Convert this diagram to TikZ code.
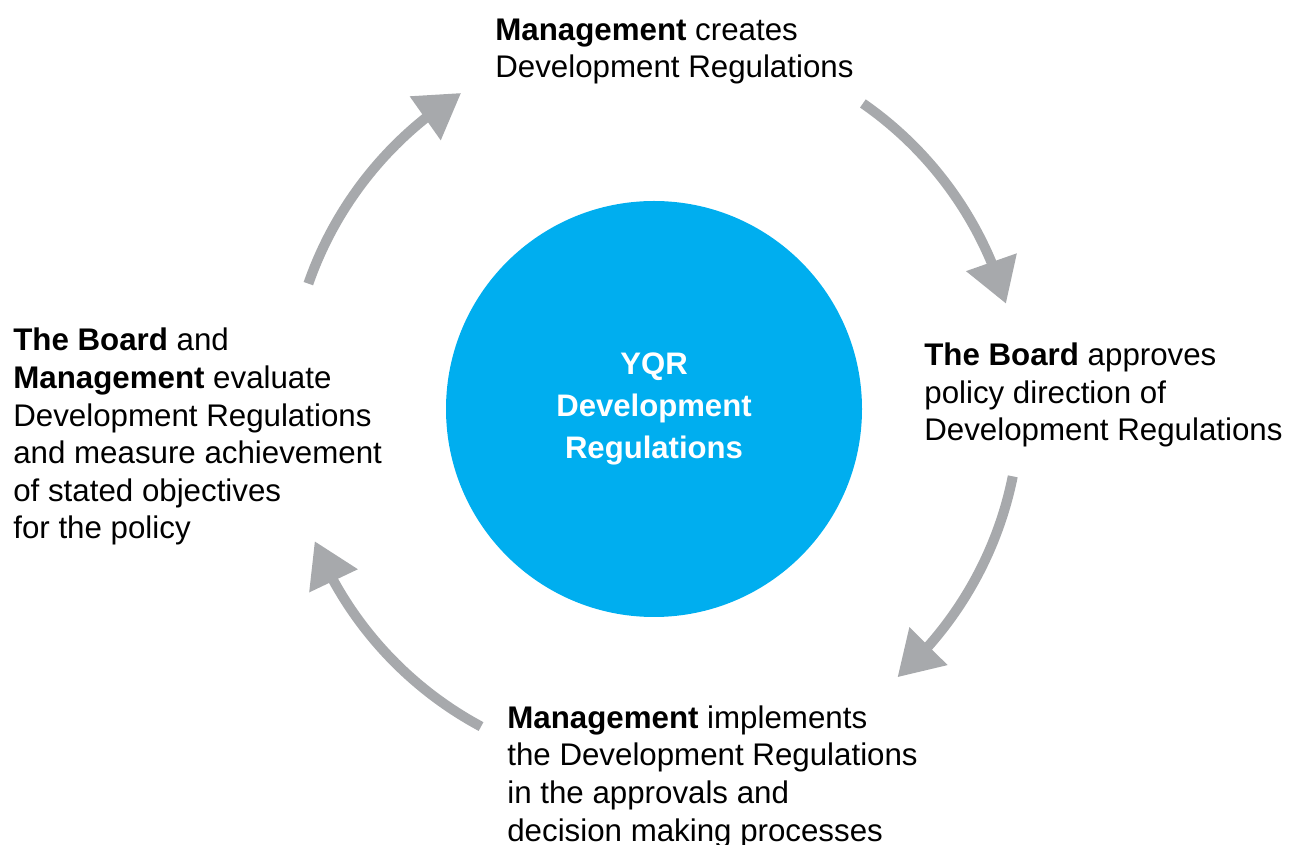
\documentclass[tikz,border=0pt]{standalone}
\usepackage{fontspec}
\setmainfont{Liberation Sans}
\usepackage{xcolor}
\usetikzlibrary{arrows.meta,bending,positioning}

\definecolor{yqrblue}{RGB}{0,174,239}
\definecolor{cyclegrey}{RGB}{167,169,172}

\begin{document}
\begin{tikzpicture}[
    every node/.style = {align=left, inner sep=0pt,
      font=\fontsize{17.8pt}{21.4pt}\selectfont},
    >={Triangle[length=8.8mm, width=10.2mm]},
    cycle arrow/.style = {->, draw=cyclegrey, line width=2mm}
  ]
  \useasboundingbox (0,0) rectangle (25.92,-16.9);

  \coordinate (O) at (13.08,-8.08);

  \node (Y) [circle, fill=yqrblue, minimum size=8.32cm, align=center,
    text=white, yshift=-1mm,
    font=\fontsize{17.7pt}{23.9pt}\selectfont\bfseries] at (O)
    {YQR\\Development\\Regulations};

  % text blocks, placed by the baseline of their last line
  \node (A) [anchor=base west] at (9.9,-1.56)
    {\textbf{Management} creates\\Development Regulations};
  \node (B) [anchor=base west] at (18.48,-8.82)
    {\textbf{The Board} approves\\policy direction of\\Development Regulations};
  \node (C) [anchor=base west] at (10.14,-16.82)
    {\textbf{Management} implements\\the Development Regulations\\in the approvals and\\decision making processes};
  \node (D) [anchor=base west] at (0.26,-10.78)
    {\textbf{The Board} and\\\textbf{Management} evaluate\\Development Regulations\\and measure achievement\\of stated objectives\\for the policy};

  % the four steps of the cycle
  \draw[cycle arrow] ([shift={(160.8:7.32)}]O) arc[start angle=160.8, end angle=121.8, radius=7.32];
  \draw[cycle arrow] ([shift={(55.2:7.32)}]O) arc[start angle=55.2, end angle=15.9, radius=7.32];
  \draw[cycle arrow] ([shift={(-11.4:7.32)}]O) arc[start angle=-11.4, end angle=-48.3, radius=7.32];
  \draw[cycle arrow] ([shift={(-118.2:7.32)}]O) arc[start angle=-118.2, end angle=-158.0, radius=7.32];

\end{tikzpicture}
\end{document}
